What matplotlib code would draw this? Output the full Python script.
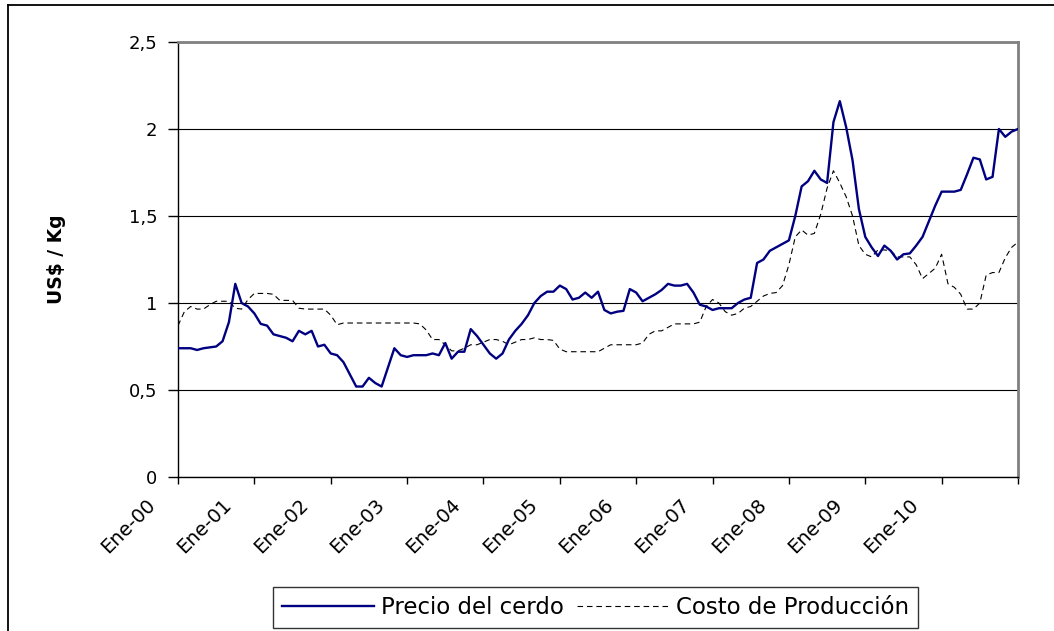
import matplotlib
matplotlib.use("Agg")
import matplotlib.pyplot as plt
import matplotlib.transforms as mtransforms
from matplotlib.lines import Line2D

#DATA (monthly, Ene-00 .. Ene-11)
precio = [0.74, 0.74, 0.74, 0.73, 0.74, 0.745, 0.75, 0.78, 0.89, 1.11,
          1.00, 0.98, 0.94, 0.88, 0.87, 0.82, 0.81, 0.80, 0.78, 0.84,
          0.82, 0.84, 0.75, 0.76, 0.71, 0.70, 0.66, 0.59, 0.52, 0.52,
          0.57, 0.54, 0.52, 0.63, 0.74, 0.70, 0.69, 0.70, 0.70, 0.70,
          0.71, 0.70, 0.77, 0.68, 0.72, 0.72, 0.85, 0.81, 0.76, 0.71,
          0.68, 0.71, 0.79, 0.84, 0.88, 0.93, 1.00, 1.04, 1.065, 1.065,
          1.10, 1.08, 1.02, 1.03, 1.06, 1.03, 1.065, 0.96, 0.94, 0.95,
          0.955, 1.08, 1.06, 1.01, 1.03, 1.05, 1.075, 1.11, 1.10, 1.10,
          1.11, 1.06, 0.99, 0.98, 0.96, 0.97, 0.97, 0.97, 1.00, 1.02,
          1.03, 1.23, 1.25, 1.30, 1.32, 1.34, 1.36, 1.50, 1.67, 1.70,
          1.76, 1.71, 1.69, 2.04, 2.16, 2.01, 1.82, 1.54, 1.38, 1.32,
          1.27, 1.33, 1.30, 1.25, 1.28, 1.285, 1.33, 1.38, 1.47, 1.56,
          1.64, 1.64, 1.64, 1.65, 1.74, 1.835, 1.825, 1.71, 1.725, 2.00,
          1.955, 1.985, 2.00]

costo = [0.87, 0.95, 0.98, 0.965, 0.965, 0.99, 1.01, 1.01, 1.01, 0.97,
         0.965, 1.02, 1.055, 1.055, 1.055, 1.05, 1.015, 1.015, 1.015, 0.97,
         0.965, 0.965, 0.965, 0.965, 0.93, 0.875, 0.885, 0.885, 0.885, 0.885,
         0.885, 0.885, 0.885, 0.885, 0.885, 0.885, 0.885, 0.885, 0.88, 0.845,
         0.79, 0.79, 0.76, 0.725, 0.725, 0.74, 0.76, 0.76, 0.775, 0.79,
         0.79, 0.78, 0.76, 0.775, 0.79, 0.79, 0.80, 0.79, 0.79, 0.785,
         0.735, 0.72, 0.72, 0.72, 0.72, 0.72, 0.72, 0.74, 0.76, 0.76,
         0.76, 0.76, 0.76, 0.77, 0.82, 0.84, 0.84, 0.86, 0.88, 0.88,
         0.88, 0.88, 0.89, 0.98, 1.02, 1.00, 0.95, 0.93, 0.94, 0.97,
         0.98, 1.01, 1.04, 1.055, 1.06, 1.10, 1.22, 1.38, 1.42, 1.39,
         1.40, 1.51, 1.66, 1.76, 1.69, 1.61, 1.50, 1.33, 1.28, 1.265,
         1.305, 1.305, 1.30, 1.265, 1.265, 1.265, 1.22, 1.14, 1.17, 1.20,
         1.28, 1.11, 1.09, 1.05, 0.965, 0.965, 1.00, 1.16, 1.175, 1.175,
         1.26, 1.32, 1.35]

x_tick_pos = [0, 12, 24, 36, 48, 60, 72, 84, 96, 108, 120, 132]
x_tick_labels = ["Ene-00", "Ene-01", "Ene-02", "Ene-03", "Ene-04", "Ene-05",
                 "Ene-06", "Ene-07", "Ene-08", "Ene-09", "Ene-10", ""]
y_ticks = [0, 0.5, 1, 1.5, 2, 2.5]
y_labels = ["0", "0,5", "1", "1,5", "2", "2,5"]

plt.rcParams['font.family'] = ['DejaVu Sans']

W, H = 1054, 631
fig = plt.figure(figsize=(W / 100, H / 100), dpi=100)
ax = fig.add_axes([178 / W, 1 - 477 / H, 840 / W, 435 / H])

months = list(range(len(precio)))
ax.plot(months, precio, color="#000080", lw=1.7, label="Precio del cerdo", zorder=3)
ax.plot(months, costo, color="black", lw=0.8, dashes=(5, 3.5),
        label="Costo de Producción", zorder=2)

ax.set_xlim(0, 132)
ax.set_ylim(0, 2.5)
ax.set_yticks(y_ticks)
ax.set_yticklabels(y_labels)
ax.set_xticks(x_tick_pos)
ax.set_xticklabels(x_tick_labels, rotation=45, ha="right", va="top")

#grid and frame
ax.yaxis.grid(True, color="black", lw=0.8)
ax.set_axisbelow(True)
for side in ["left", "bottom"]:
    ax.spines[side].set_color("black")
    ax.spines[side].set_linewidth(1.0)
for side in ["top", "right"]:
    ax.spines[side].set_color("#808080")
    ax.spines[side].set_linewidth(2.0)

ax.tick_params(axis="y", direction="out", length=7, width=1, pad=8, labelsize=13)
ax.tick_params(axis="x", direction="out", length=5, width=1, pad=8, labelsize=14)

#shift rotated labels a bit left, like the original
offset = mtransforms.ScaledTranslation(-19 / 100, 0, fig.dpi_scale_trans)
for lab in ax.get_xticklabels():
    lab.set_transform(lab.get_transform() + offset)

fig.text(56 / W, 1 - 259 / H, "US$ / Kg", rotation=90, ha="center", va="center",
         fontsize=13.5, fontweight="bold")

leg = fig.legend(loc="center", bbox_to_anchor=(595.5 / W, 1 - 607.3 / H), ncol=2,
                 fontsize=16.5, handlelength=4.0, handletextpad=0.3, columnspacing=0.6,
                 frameon=True, fancybox=False, edgecolor="black", borderpad=0.4)
leg.get_frame().set_linewidth(1.0)

#outer chart border (left and top visible)
fig.add_artist(Line2D([8 / W, 8 / W], [0, 1 - 5 / H], color="black", lw=1.3,
                      transform=fig.transFigure))
fig.add_artist(Line2D([8 / W, 1], [1 - 5 / H, 1 - 5 / H], color="black", lw=1.3,
                      transform=fig.transFigure))

fig.savefig("out.png", dpi=100)
